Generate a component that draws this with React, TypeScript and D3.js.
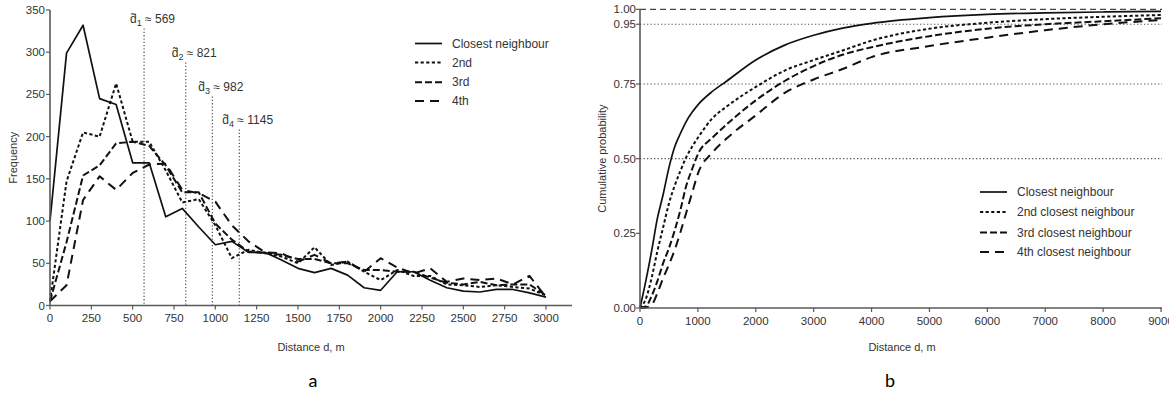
import React from 'react';
import * as d3 from 'd3';

// ---------- Panel a: frequency ----------
const binDistances = [0, 100, 200, 300, 400, 500, 600, 700, 800, 900, 1000, 1100, 1200, 1300, 1400, 1500, 1600, 1700, 1800, 1900, 2000, 2100, 2200, 2300, 2400, 2500, 2600, 2700, 2800, 2900, 3000];
const closestFreq = [100, 299, 332, 245, 238, 169, 169, 105, 115, 93, 72, 76, 63, 63, 54, 44, 39, 44, 36, 21, 18, 40, 40, 30, 21, 17, 16, 19, 19, 15, 10];
const secondFreq = [5, 147, 205, 200, 263, 194, 194, 160, 122, 126, 95, 56, 66, 62, 58, 50, 69, 48, 52, 40, 30, 42, 35, 35, 25, 24, 22, 24, 22, 20, 12];
const thirdFreq = [5, 75, 154, 166, 192, 194, 189, 166, 134, 134, 97, 78, 64, 62, 60, 55, 55, 50, 50, 42, 42, 40, 40, 33, 27, 25, 28, 24, 25, 25, 12];
const fourthFreq = [5, 24, 125, 153, 137, 157, 167, 168, 137, 133, 123, 95, 76, 63, 62, 52, 60, 50, 52, 40, 56, 45, 38, 44, 28, 32, 30, 32, 25, 35, 10];
const freqTicks = [0, 50, 100, 150, 200, 250, 300, 350];
const distTicksA = [0, 250, 500, 750, 1000, 1250, 1500, 1750, 2000, 2250, 2500, 2750, 3000];
const medianSubs = ['1', '2', '3', '4'];
const medianValues = [569, 821, 982, 1145];
const medianLabelValues = ['569', '821', '982', '1145'];
const legendA = ['Closest neighbour', '2nd', '3rd', '4th'];

// ---------- Panel b: cumulative probability ----------
const cdfDistances = [0, 100, 200, 300, 400, 500, 600, 700, 800, 900, 1000, 1250, 1500, 2000, 2500, 3000, 3500, 4000, 5000, 6000, 7000, 8000, 9000];
const cdfClosest = [0, 0.09, 0.19, 0.3, 0.38, 0.47, 0.54, 0.585, 0.625, 0.655, 0.68, 0.725, 0.76, 0.83, 0.88, 0.913, 0.937, 0.953, 0.972, 0.983, 0.988, 0.991, 0.993];
const cdfSecond = [0, 0.03, 0.1, 0.19, 0.27, 0.35, 0.41, 0.46, 0.505, 0.54, 0.57, 0.635, 0.675, 0.74, 0.795, 0.83, 0.862, 0.895, 0.935, 0.955, 0.967, 0.975, 0.981];
const cdfThird = [0, 0.005, 0.04, 0.09, 0.15, 0.2, 0.26, 0.33, 0.41, 0.465, 0.515, 0.57, 0.615, 0.695, 0.76, 0.81, 0.848, 0.873, 0.91, 0.935, 0.95, 0.96, 0.97];
const cdfFourth = [0, 0.002, 0.01, 0.05, 0.1, 0.145, 0.195, 0.255, 0.32, 0.385, 0.45, 0.52, 0.568, 0.645, 0.72, 0.765, 0.8, 0.84, 0.877, 0.905, 0.93, 0.95, 0.964];
const probTicks = [0, 0.25, 0.5, 0.75, 0.95, 1];
const probGrid = [0.5, 0.75, 0.95];
const distTicksB = [0, 1000, 2000, 3000, 4000, 5000, 6000, 7000, 8000, 9000];
const legendB = ['Closest neighbour', '2nd closest neighbour', '3rd closest neighbour', '4th closest neighbour'];

const dashes = [null, '3.2,2.4', '7,3', '9,6'];
const widths = [1.7, 2, 2, 2];

const FONT = '"Liberation Sans", Arial, sans-serif';
const AXIS = '#5a5a5a';
const TXT = '#333';
const INK = '#111';

export default function App() {
  // panel a scales
  const xA = d3.scaleLinear().domain([0, 3000]).range([50, 546]);
  const yA = d3.scaleLinear().domain([0, 350]).range([305.5, 10]);
  const xAEnd = 572;
  // panel b scales
  const xB = d3.scaleLinear().domain([0, 9000]).range([640, 1161]);
  const yB = d3.scaleLinear().domain([0, 1]).range([308, 9.3]);

  const freqSeries = [closestFreq, secondFreq, thirdFreq, fourthFreq];
  const cdfSeries = [cdfClosest, cdfSecond, cdfThird, cdfFourth];

  const lineA = d3.line<number>()
    .x((_, i) => xA(binDistances[i]))
    .y((d) => yA(d));
  const lineB = d3.line<number>()
    .x((_, i) => xB(cdfDistances[i]))
    .y((d) => yB(d))
    .curve(d3.curveMonotoneX);

  const labelYs = [23, 57, 91, 124];
  const labelOffsets = [14, 14, 14, 17];
  const legendAYs = [43.5, 62.5, 82.3, 101];
  const legendBYs = [192, 212, 232.5, 252];

  return (
    <svg width={1169} height={398} style={{ position: 'absolute', left: 0, top: 0, background: '#fff' }} fontFamily={FONT}>
      <rect x={0} y={0} width={1169} height={398} fill="#fff" />
      {/* ===== Panel a ===== */}
      {/* median dotted lines */}
      {medianValues.map((m, i) => (
        <g key={'med' + i}>
          <line x1={xA(m)} x2={xA(m)} y1={labelYs[i] + 5.5} y2={yA(0)} stroke="#555" strokeWidth={1.2} strokeDasharray="1.3,2" />
          <text x={xA(m) - labelOffsets[i]} y={labelYs[i]} fontSize={12} fill={TXT}>
            <tspan>d&#x0303;</tspan>
            <tspan fontSize={9} dy={3}>{medianSubs[i]}</tspan>
            <tspan dy={-3}>{' \u2248 ' + medianLabelValues[i]}</tspan>
          </text>
        </g>
      ))}
      {/* series lines */}
      {freqSeries.map((s, i) => (
        <path key={'fa' + i} d={lineA(s) || ''} fill="none" stroke={INK} strokeWidth={widths[i]}
          strokeDasharray={dashes[i] || undefined} strokeLinejoin="round" />
      ))}
      {/* axes */}
      <line x1={50} x2={50} y1={yA(350)} y2={yA(0)} stroke={AXIS} strokeWidth={1.6} />
      <line x1={50} x2={xAEnd} y1={yA(0)} y2={yA(0)} stroke={AXIS} strokeWidth={1.6} />
      {freqTicks.map((t) => (
        <g key={'ya' + t}>
          <line x1={46} x2={50} y1={yA(t)} y2={yA(t)} stroke={AXIS} strokeWidth={1.2} />
          <text x={45} y={yA(t) + 4} fontSize={11.5} textAnchor="end" fill={TXT}>{t}</text>
        </g>
      ))}
      {distTicksA.map((t) => (
        <g key={'xa' + t}>
          <line x1={xA(t)} x2={xA(t)} y1={yA(0)} y2={yA(0) + 4} stroke={AXIS} strokeWidth={1.2} />
          <text x={xA(t)} y={yA(0) + 16} fontSize={11.5} textAnchor="middle" fill={TXT}>{t}</text>
        </g>
      ))}
      <text transform={`translate(17,${(yA(0) + yA(350)) / 2}) rotate(-90)`} fontSize={11} textAnchor="middle" fill={TXT}>Frequency</text>
      <text x={(50 + xAEnd) / 2} y={351} fontSize={11} textAnchor="middle" fill={TXT}>Distance d, m</text>
      {/* legend a */}
      {legendA.map((l, i) => (
        <g key={'la' + i}>
          <line x1={415} x2={442} y1={legendAYs[i]} y2={legendAYs[i]} stroke={INK} strokeWidth={widths[i]}
            strokeDasharray={dashes[i] || undefined} />
          <text x={452} y={legendAYs[i] + 4} fontSize={12} fill={TXT}>{l}</text>
        </g>
      ))}
      <text x={313} y={387} fontSize={18} textAnchor="middle" fill="#000" fontFamily="Lato, 'Open Sans', sans-serif">a</text>

      {/* ===== Panel b ===== */}
      {probGrid.map((p) => (
        <line key={'gb' + p} x1={640} x2={1162} y1={yB(p)} y2={yB(p)} stroke="#555" strokeWidth={1.2} strokeDasharray="1.3,2.2" />
      ))}
      <line x1={640} x2={1162} y1={yB(1)} y2={yB(1)} stroke="#444" strokeWidth={1.3} strokeDasharray="6,4" />
      {cdfSeries.map((s, i) => (
        <path key={'fb' + i} d={lineB(s) || ''} fill="none" stroke={INK} strokeWidth={widths[i]}
          strokeDasharray={dashes[i] || undefined} strokeLinejoin="round" />
      ))}
      <line x1={640} x2={640} y1={yB(1)} y2={yB(0)} stroke={AXIS} strokeWidth={1.6} />
      <line x1={640} x2={1162} y1={yB(0)} y2={yB(0)} stroke={AXIS} strokeWidth={1.6} />
      {probTicks.map((t) => (
        <g key={'yb' + t}>
          <line x1={636} x2={640} y1={yB(t)} y2={yB(t)} stroke={AXIS} strokeWidth={1.2} />
          <text x={636} y={yB(t) + 4} fontSize={11.5} textAnchor="end" fill={TXT}>{t.toFixed(2)}</text>
        </g>
      ))}
      {distTicksB.map((t) => (
        <g key={'xb' + t}>
          <line x1={xB(t)} x2={xB(t)} y1={yB(0)} y2={yB(0) + 4} stroke={AXIS} strokeWidth={1.2} />
          <text x={xB(t)} y={yB(0) + 17} fontSize={11.5} textAnchor="middle" fill={TXT}>{t}</text>
        </g>
      ))}
      <text transform={`translate(606,${(yB(0) + yB(1)) / 2}) rotate(-90)`} fontSize={11} textAnchor="middle" fill={TXT}>Cumulative probability</text>
      <text x={902} y={351} fontSize={11} textAnchor="middle" fill={TXT}>Distance d, m</text>
      {legendB.map((l, i) => (
        <g key={'lb' + i}>
          <line x1={980} x2={1007} y1={legendBYs[i]} y2={legendBYs[i]} stroke={INK} strokeWidth={widths[i]}
            strokeDasharray={dashes[i] || undefined} />
          <text x={1017} y={legendBYs[i] + 4} fontSize={12} fill={TXT}>{l}</text>
        </g>
      ))}
      <text x={890} y={387} fontSize={18} textAnchor="middle" fill="#000" fontFamily="Lato, 'Open Sans', sans-serif">b</text>
    </svg>
  );
}
